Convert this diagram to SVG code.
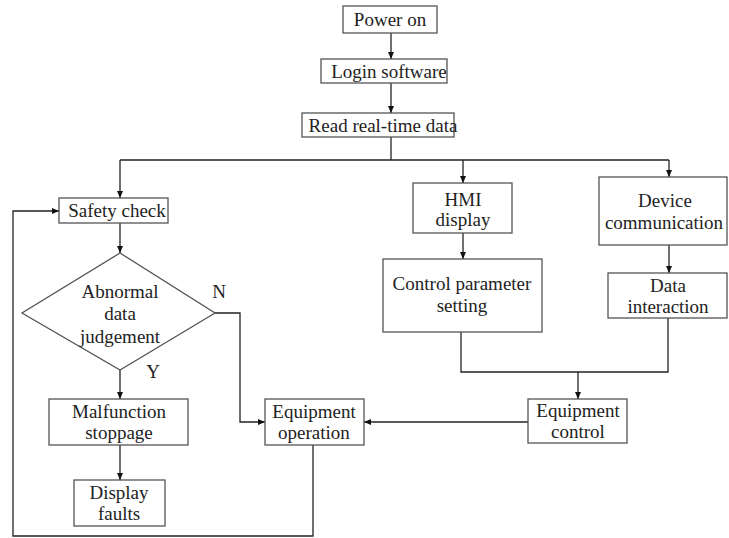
<svg xmlns="http://www.w3.org/2000/svg" width="729" height="538" viewBox="0 0 729 538" font-family="'Liberation Serif', 'Times New Roman', serif">
<defs>
<marker id="ah" markerWidth="8" markerHeight="8" refX="7" refY="4" orient="auto" markerUnits="userSpaceOnUse">
<path d="M0,1 L7,4 L0,7 Z" fill="#111"/>
</marker>
</defs>
<style>
.box{fill:#fff;stroke:#555;stroke-width:1.3}
text{font-family:'Liberation Serif','Times New Roman',serif;font-size:19px;fill:#222;text-anchor:middle}
.c{fill:none;stroke:#222;stroke-width:1.3}
</style>
<rect width="729" height="538" fill="#fff"/>
<g id="connectors">
<path class="c" d="M391,33 V59" marker-end="url(#ah)"/>
<path class="c" d="M391,83 V113" marker-end="url(#ah)"/>
<path class="c" d="M391,137 V160"/>
<path class="c" d="M120,160 H669"/>
<path class="c" d="M120,160 V198" marker-end="url(#ah)"/>
<path class="c" d="M463,160 V183" marker-end="url(#ah)"/>
<path class="c" d="M669,160 V177" marker-end="url(#ah)"/>
<path class="c" d="M120,223 V253" marker-end="url(#ah)"/>
<path class="c" d="M120,370 V399" marker-end="url(#ah)"/>
<path class="c" d="M120,445 V480" marker-end="url(#ah)"/>
<path class="c" d="M215,313 H240 V422 H265" marker-end="url(#ah)"/>
<path class="c" d="M313,445 V536 H13 V211 H59" marker-end="url(#ah)"/>
<path class="c" d="M463,233 V259" marker-end="url(#ah)"/>
<path class="c" d="M669,245 V273" marker-end="url(#ah)"/>
<path class="c" d="M461,332 V372 H668 V318"/>
<path class="c" d="M578,372 V399" marker-end="url(#ah)"/>
<path class="c" d="M528,422 H364" marker-end="url(#ah)"/>
</g>
<g id="power-on"><rect class="box" x="343" y="6" width="94" height="27"/><text x="390" y="26">Power on</text></g>
<g id="login-software"><rect class="box" x="321" y="59" width="126" height="24"/><text x="389" y="78">Login software</text></g>
<g id="read-real-time-data"><rect class="box" x="302" y="113" width="152" height="24"/><text x="383" y="132">Read real-time data</text></g>
<g id="safety-check"><rect class="box" x="59" y="198" width="109" height="25"/><text x="117" y="217">Safety check</text></g>
<g id="abnormal-data-judgement"><polygon class="box" points="120,253 215,313 120,370 22,313"/>
<text x="120" y="298">Abnormal</text><text x="120" y="320">data</text><text x="120" y="343">judgement</text></g>
<text x="219" y="298">N</text>
<text x="153" y="378">Y</text>
<g id="malfunction-stoppage"><rect class="box" x="49" y="399" width="139" height="46"/><text x="119" y="418">Malfunction</text><text x="119" y="439">stoppage</text></g>
<g id="display-faults"><rect class="box" x="74" y="480" width="91" height="46"/><text x="119" y="499">Display</text><text x="119" y="520">faults</text></g>
<g id="equipment-operation"><rect class="box" x="265" y="399" width="99" height="46"/><text x="314" y="418">Equipment</text><text x="314" y="439">operation</text></g>
<g id="hmi-display"><rect class="box" x="413" y="183" width="99" height="50"/><text x="463" y="206">HMI</text><text x="463" y="226">display</text></g>
<g id="control-parameter-setting"><rect class="box" x="383" y="259" width="159" height="73"/><text x="462" y="290">Control parameter</text><text x="462" y="312">setting</text></g>
<g id="device-communication"><rect class="box" x="599" y="177" width="128" height="68"/><text x="665" y="207">Device</text><text x="664" y="229">communication</text></g>
<g id="data-interaction"><rect class="box" x="608" y="273" width="119" height="45"/><text x="668" y="292">Data</text><text x="668" y="313">interaction</text></g>
<g id="equipment-control"><rect class="box" x="528" y="399" width="99" height="44"/><text x="578" y="417">Equipment</text><text x="578" y="438">control</text></g>
</svg>
